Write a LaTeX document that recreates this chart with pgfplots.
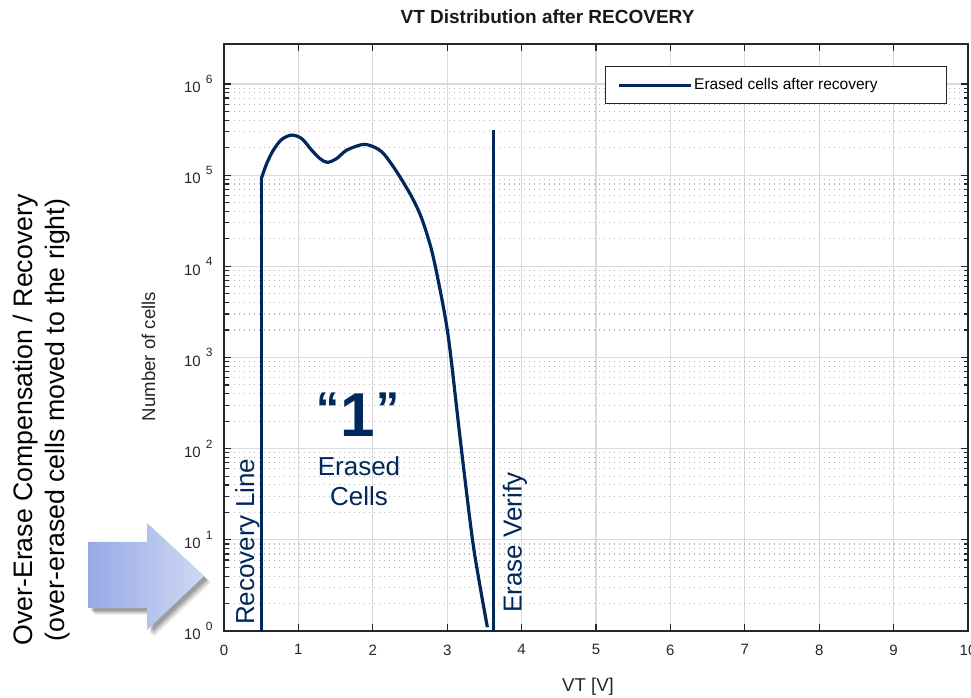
\documentclass[border=0pt]{standalone}
\usepackage{pgfplots}
\pgfplotsset{compat=1.18}
\usepackage{fontspec}
\setmainfont{Liberation Sans}
\definecolor{navy}{RGB}{0,40,90}
\definecolor{frame}{RGB}{38,38,38}
\definecolor{gmaj}{RGB}{218,218,218}
\definecolor{gmin}{RGB}{180,180,180}
\definecolor{arrL}{RGB}{150,170,230}
\definecolor{arrR}{RGB}{208,216,242}
\newcommand{\tl}[1]{10\hspace{5pt}\raisebox{9.5pt}{\fontsize{12}{12}\selectfont #1}}
\begin{document}
\begin{tikzpicture}
\path[use as bounding box] (0,0) rectangle (971pt,698pt);
% arrow shadow
\foreach \o/\op in {7/0.06,6/0.07,5/0.09,4/0.11,3/0.13}{
  \fill[black,opacity=\op,xshift=\o pt,yshift=-\o pt] (88pt,156pt) -- (147pt,156pt) -- (147pt,175pt) -- (204pt,122pt) -- (147pt,68pt) -- (147pt,90pt) -- (88pt,90pt) -- cycle;
}
\shade[left color=arrL, right color=arrR] (88pt,156pt) -- (147pt,156pt) -- (147pt,175pt) -- (204pt,122pt) -- (147pt,68pt) -- (147pt,90pt) -- (88pt,90pt) -- cycle;
\begin{axis}[
  at={(224pt,67pt)}, anchor=south west,
  scale only axis, width=744pt, height=587pt,
  xmin=0, xmax=10, ymode=log, ymin=1, ymax=2.745e6,
  xtick={0,1,2,3,4,5,6,7,8,9,10},
  ytick={1,10,100,1000,10000,100000,1000000},
  yticklabels={\tl{0},\tl{1},\tl{2},\tl{3},\tl{4},\tl{5},\tl{6}},
  xmajorgrids, ymajorgrids, yminorgrids,
  major grid style={color=gmaj, line width=1.2pt},
  minor grid style={color=gmin, line width=1.1pt, dash pattern=on 1.1pt off 3.9pt},
  axis line style={color=frame, line width=1.6pt},
  tick style={color=frame, line width=1.2pt},
  major tick length=7pt, minor tick length=4.5pt,
  tick label style={font=\fontsize{15}{15}\selectfont, color=frame},
  xticklabel style={yshift=-10pt},
  yticklabel style={xshift=-8pt},
  /pgf/number format/assume math mode=true,
  legend style={at={(axis description cs:0.5121,0.9625)}, anchor=north west,
    draw=frame, line width=1.3pt, fill=white, inner sep=0pt,
    nodes={inner sep=0pt},
    font=\fontsize{15.5}{15.5}\selectfont, text=black},
  legend cell align=left,
  legend image code/.code={\path[draw=none,fill=none] (0pt,-18.5pt) rectangle (13pt,18.5pt); \draw[#1,line width=3pt] (13pt,0pt) -- (85pt,0pt);},
]
\addplot[navy, line width=3.2pt, forget plot] coordinates {(0.507,1) (0.507,9.44e4)};
\addplot[navy, line width=3.2pt, smooth, tension=0.5] coordinates {
(0.507,9.44e4) (0.574,1.34e5) (0.663,1.88e5) (0.775,2.46e5) (0.909,2.75e5)
(1.044,2.52e5) (1.178,1.88e5) (1.290,1.52e5) (1.389,1.38e5) (1.514,1.52e5)
(1.649,1.88e5) (1.864,2.17e5) (2.007,2.05e5) (2.142,1.73e5) (2.321,1.09e5)
(2.523,5.78e4) (2.657,3.35e4) (2.79,1.51e4) (2.90,5.75e3) (2.99,2.29e3)
(3.05,1000) (3.19,100) (3.34,10) (3.45,2.82) (3.54,1.1)};
\addlegendentry{\raisebox{2pt}{\makebox[254pt][l]{\hspace{2pt}Erased cells after recovery}}}
\addplot[navy, line width=2.6pt, forget plot] coordinates {(3.62,1) (3.62,3.1e5)};
\end{axis}
\node[anchor=base, font=\bfseries\fontsize{19}{19}\selectfont, text=black!90] at (547.5pt,674pt) {VT Distribution after RECOVERY};
\node[anchor=base, font=\fontsize{18.6}{18.6}\selectfont, text=frame] at (588pt,6pt) {VT [V]};
\node[rotate=90, anchor=base, font=\fontsize{18.6}{18.6}\selectfont, text=frame] at (155pt,341.5pt) {Number of cells};
\node[rotate=90, anchor=base west, inner sep=0pt, text=navy, font=\fontsize{26}{26}\selectfont] at (254pt,73pt) {Recovery Line};
\node[rotate=90, anchor=base west, inner sep=0pt, text=navy, font=\fontsize{26}{26}\selectfont] at (521.5pt,85pt) {Erase Verify};
\node[anchor=base, inner sep=0pt, text=navy, font=\fontsize{26}{26}\selectfont] at (359pt,222pt) {Erased};
\node[anchor=base, inner sep=0pt, text=navy, font=\fontsize{26}{26}\selectfont] at (359pt,192.3pt) {Cells};
\node[anchor=base, inner sep=0pt, text=navy, font=\bfseries\fontsize{62}{62}\selectfont] at (358pt,261.3pt) {\raisebox{12pt}{\fontsize{46}{46}\selectfont “}\kern1pt 1\kern1pt\raisebox{12pt}{\fontsize{46}{46}\selectfont ”}};
\node[rotate=90, anchor=base, inner sep=0pt, text=black, font=\fontsize{26.7}{26.7}\selectfont] at (32pt,278pt) {Over-Erase Compensation / Recovery};
\node[rotate=90, anchor=base, inner sep=0pt, text=black, font=\fontsize{26.7}{26.7}\selectfont] at (64pt,278pt) {(over-erased cells moved to the right)};
\end{tikzpicture}
\end{document}
